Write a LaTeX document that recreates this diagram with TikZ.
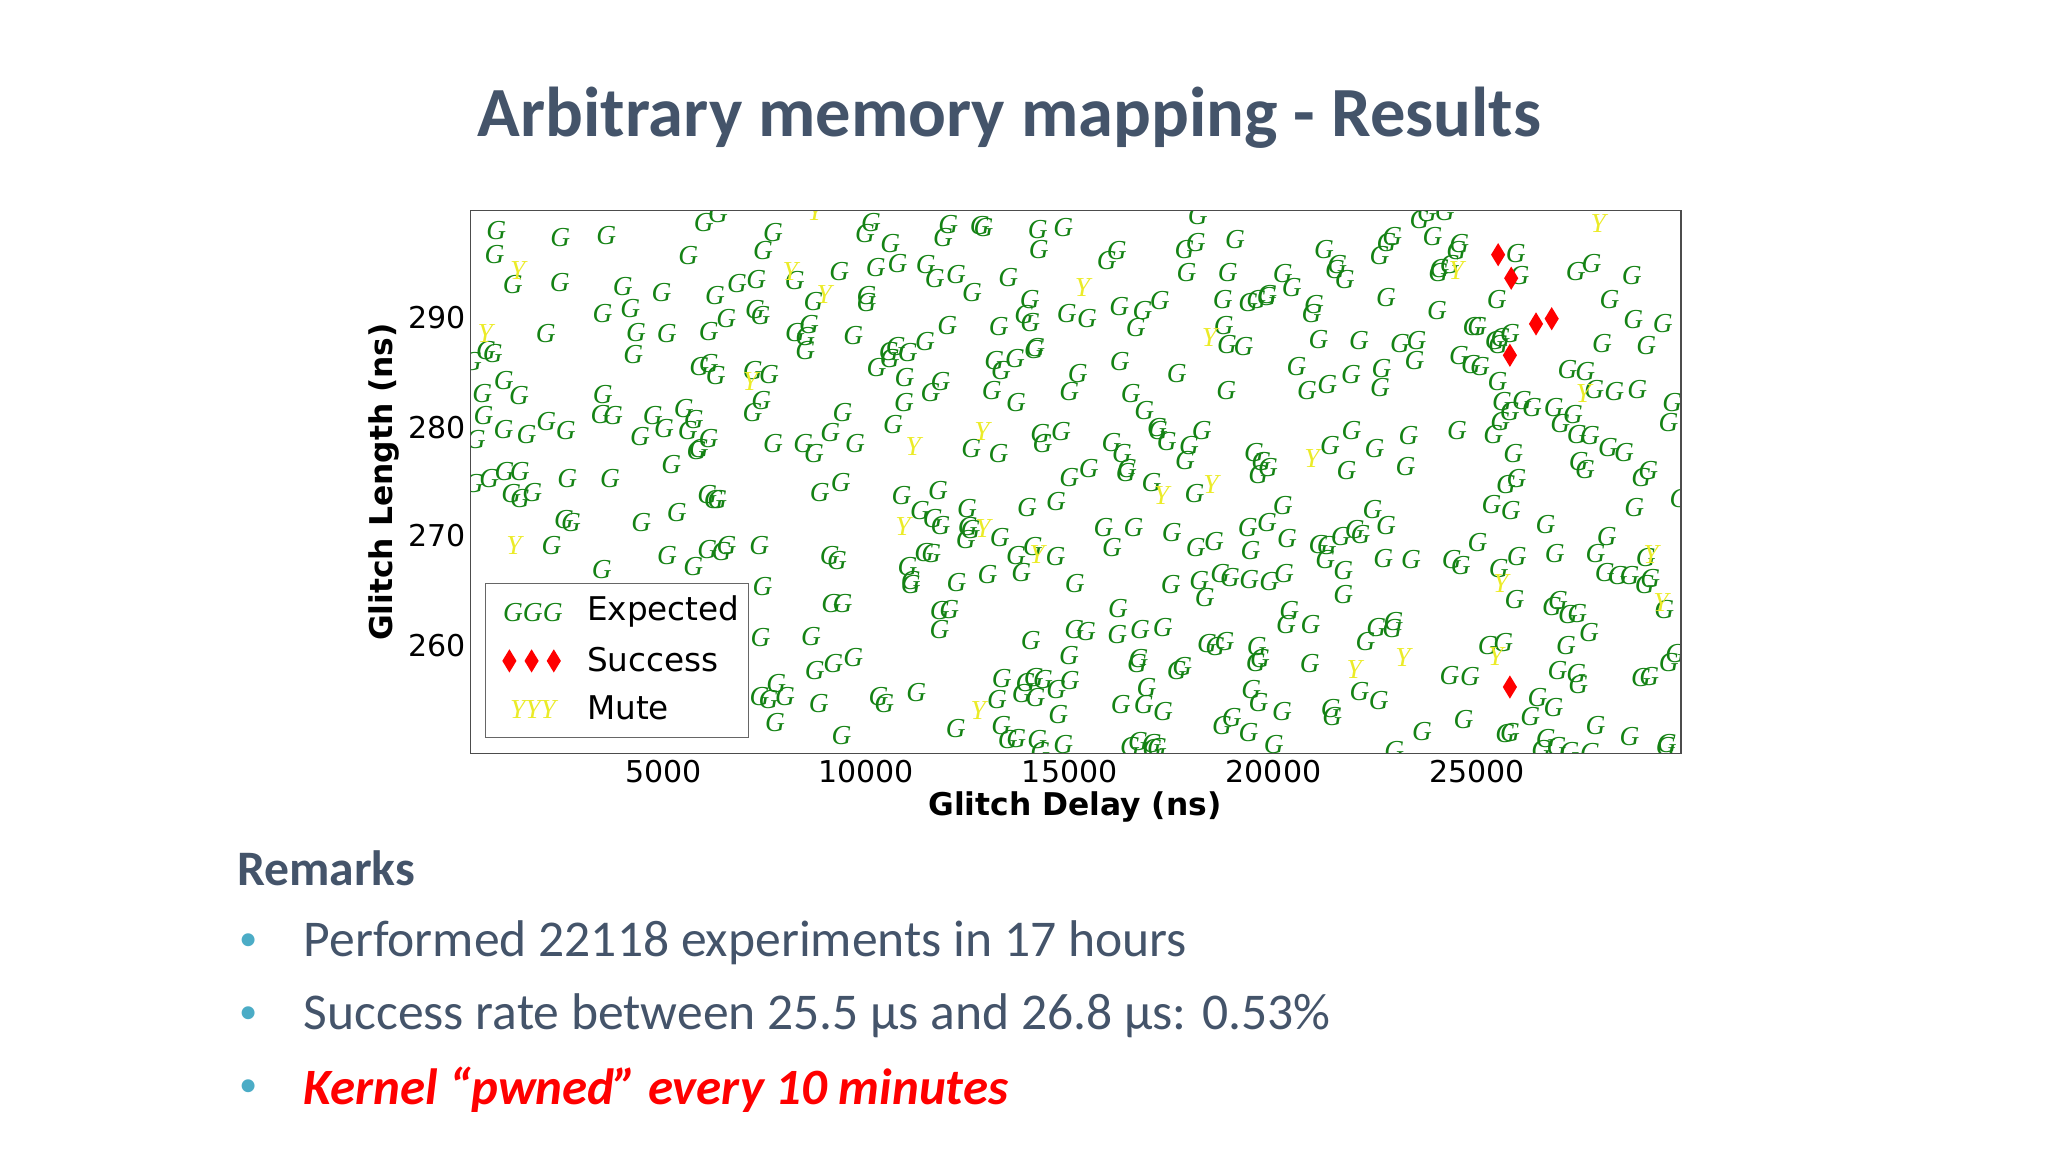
\documentclass[tikz,border=0pt]{standalone}
\usepackage{fontspec}
\setmainfont{Carlito}
\newfontfamily\dejavu{DejaVu Sans}
\newfontfamily\gfont{Liberation Serif}
\usetikzlibrary{shapes.geometric}
\definecolor{titlec}{RGB}{68,84,106}
\definecolor{gg}{RGB}{20,130,20}
\definecolor{yy}{RGB}{235,235,40}
\definecolor{bul}{RGB}{75,172,198}
\tikzset{
  gmark/.style={text=gg,font=\gfont\itshape\fontsize{21}{21}\selectfont,inner sep=0pt},
  ymark/.style={text=yy,font=\gfont\itshape\fontsize{21}{21}\selectfont,inner sep=0pt},
  dmd/.style={diamond,fill=red,inner sep=0pt,minimum width=11pt,minimum height=18pt},
  tick/.style={font=\dejavu\fontsize{23}{23}\selectfont},
  legt/.style={anchor=west,font=\dejavu\fontsize{25}{25}\selectfont},
  axl/.style={font=\dejavu\bfseries\fontsize{24}{24}\selectfont},
  bl/.style={anchor=west,text=titlec,font=\fontsize{39.5}{39.5}\selectfont},
  dot/.style={text=bul,font=\fontsize{28}{28}\selectfont}
}
\begin{document}
\begin{tikzpicture}[x=1pt,y=-1pt]
\useasboundingbox (0,0) rectangle (1568,882);
\node[text=titlec,font=\bfseries\fontsize{54}{54}\selectfont] (title) at (773,90) {Arbitrary memory mapping - Results};
% plot
\begin{scope}
\clip (360,161) rectangle (1287,577);
\pgfmathsetseed{4217}
\foreach \i in {1,...,520}{
  \pgfmathsetmacro\px{360+927*rnd}
  \pgfmathsetmacro\py{161+416*rnd}
  \pgfmathparse{(\px<580 && \py>440) ? 1 : 0}
  \ifnum\pgfmathresult=0 \node[gmark] at (\px,\py) {G};\fi
}
\foreach \i in {1,...,30}{
  \pgfmathsetmacro\px{360+927*rnd}
  \pgfmathsetmacro\py{161+416*rnd}
  \pgfmathparse{(\px<580 && \py>440) ? 1 : 0}
  \ifnum\pgfmathresult=0 \node[ymark] at (\px,\py) {Y};\fi
}
\foreach \p in {(1147,195),(1157,213),(1176,248),(1188,244),(1156,272),(1156,526)}
  \node[dmd] at \p {};
\end{scope}
\node[draw=black!60,fill=white,line width=0.8pt,minimum width=201pt,minimum height=118pt] (leg) at (472.5,506) {};
\node[gmark] (l1) at (408,469) {GGG};
\node[legt] (t1) at (446,468) {Expected};
\node[dmd] (d1) at (390,506) {};
\node[dmd] (d2) at (407,506) {};
\node[dmd] (d3) at (424,506) {};
\node[legt] (t2) at (446,505) {Success};
\node[ymark] (l3) at (408,543) {YYY};
\node[legt] (t3) at (446,542) {Mute};
\draw[black!70,line width=0.8pt] (360,161) rectangle (1287,577);
\foreach \v/\yy in {290/243,280/327,270/410,260/494}
  \node[tick,anchor=east] (yt\v) at (360,\yy) {\v};
\foreach \v/\xx in {5000/508,10000/663,15000/819,20000/975,25000/1131}
  \node[tick] (xt\v) at (\xx,591) {\v};
\node[axl] (xl) at (823,618) {Glitch Delay (ns)};
\node[axl,rotate=90] (yl) at (294,369) {Glitch Length (ns)};
% remarks
\node[anchor=west,text=titlec,font=\bfseries\fontsize{38}{38}\selectfont] (rem) at (178,665) {Remarks};
\node[dot] (b1) at (190,721) {•};
\node[bl] (r1) at (229,722) {Performed 22118 experiments in 17 hours};
\node[dot] (b2) at (190,777) {•};
\node[bl] (r2) at (229,778) {Success rate between 25.5 µs and 26.8 µs: 0.53\%};
\node[dot] (b3) at (190,833) {•};
\node[bl,text=red,font=\bfseries\itshape\fontsize{39}{39}\selectfont] (r3) at (229,834) {Kernel “pwned” every 10 minutes};
\end{tikzpicture}
\end{document}
